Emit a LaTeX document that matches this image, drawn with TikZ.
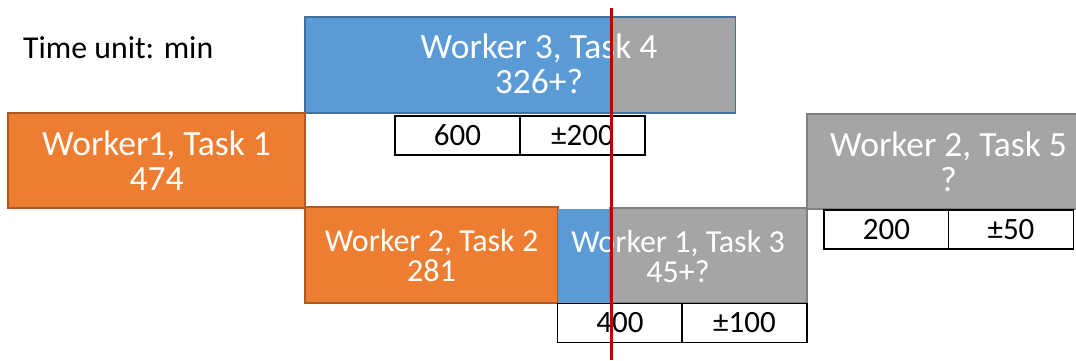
\documentclass[tikz,border=0pt]{standalone}
\usepackage{fontspec}
\setmainfont{Carlito}
\definecolor{tblue}{HTML}{5B9BD5}
\definecolor{tblueb}{HTML}{41719C}
\definecolor{torange}{HTML}{ED7D31}
\definecolor{torangeb}{HTML}{AE5A21}
\definecolor{tgray}{HTML}{A5A5A5}
\definecolor{tgrayb}{HTML}{7F7F7F}
\definecolor{tred}{HTML}{C00000}
\newcommand{\bigtxt}{\fontsize{35.5}{35}\selectfont}
\newcommand{\midtxt}{\fontsize{32}{30}\selectfont}
\newcommand{\celltxt}{\fontsize{31}{31}\selectfont}
\begin{document}
\begin{tikzpicture}[x=1pt,y=-1pt,
  bar/.style={rectangle, line width=1.2pt, inner sep=0pt},
  lbl/.style={text=white, align=center, inner sep=0pt},
  cell/.style={rectangle, draw=black, line width=1.3pt, fill=white,
    minimum width=125pt, minimum height=39pt, inner sep=0pt, font=\celltxt},
  redline/.style={draw=tred, line width=3pt}]
\useasboundingbox (0,0) rectangle (1076,360);
\clip (0,0) rectangle (1076,360);

% caption
\node[anchor=base west, inner sep=0pt, font=\fontsize{31.8}{32}\selectfont] (unit) at (23,58) {Time unit: min};

% Worker 3, Task 4 (blue, remaining part grey)
\node[bar, draw=tblueb, fill=tblue, minimum width=430pt, minimum height=96pt] (t4) at (520,65) {};
\node[bar, fill=tgray, minimum width=123pt, minimum height=94.8pt] (t4rest) at (673,65) {};
\node[lbl, font=\bigtxt] (t4txt) at (539,64) {Worker 3, Task 4\\326+?};
\node[cell] (t4a) at (457.5,135.5) {600};
\node[cell] (t4b) at (582.5,135.5) {±200};

% Worker1, Task 1
\node[bar, draw=torangeb, fill=torange, minimum width=297pt, minimum height=95pt, lbl, font=\bigtxt] (t1) at (156.5,160.5) {Worker1, Task 1\\474};

% Worker 2, Task 2
\node[bar, draw=torangeb, fill=torange, minimum width=253pt, minimum height=96pt, lbl, font=\midtxt] (t2) at (431.5,255) {Worker 2, Task 2\\281};

% Worker 1, Task 3 (blue start, grey remainder)
\node[bar, fill=tblue, minimum width=54pt, minimum height=94pt] (t3) at (585,255.5) {};
\node[bar, draw=tgrayb, fill=tgray, minimum width=197pt, minimum height=95pt] (t3rest) at (708.5,255.5) {};
\node[lbl, font=\midtxt] (t3txt) at (678,256) {Worker 1, Task 3\\45+?};
\node[cell] (t3a) at (620,323) {400};
\node[cell] (t3b) at (744.5,323) {±100};

% Worker 2, Task 5
\node[bar, draw=tgrayb, fill=tgray, minimum width=283pt, minimum height=95pt, lbl, font=\bigtxt] (t5) at (948.5,161.5) {Worker 2, Task 5\\?};
\node[cell] (t5a) at (886.5,229.5) {200};
\node[cell] (t5b) at (1011,229.5) {±50};

% current time marker
\coordinate (nowtop) at (611,8);
\coordinate (nowbot) at (611,360);
\draw[redline] (nowtop) -- (nowbot);
\end{tikzpicture}
\end{document}
